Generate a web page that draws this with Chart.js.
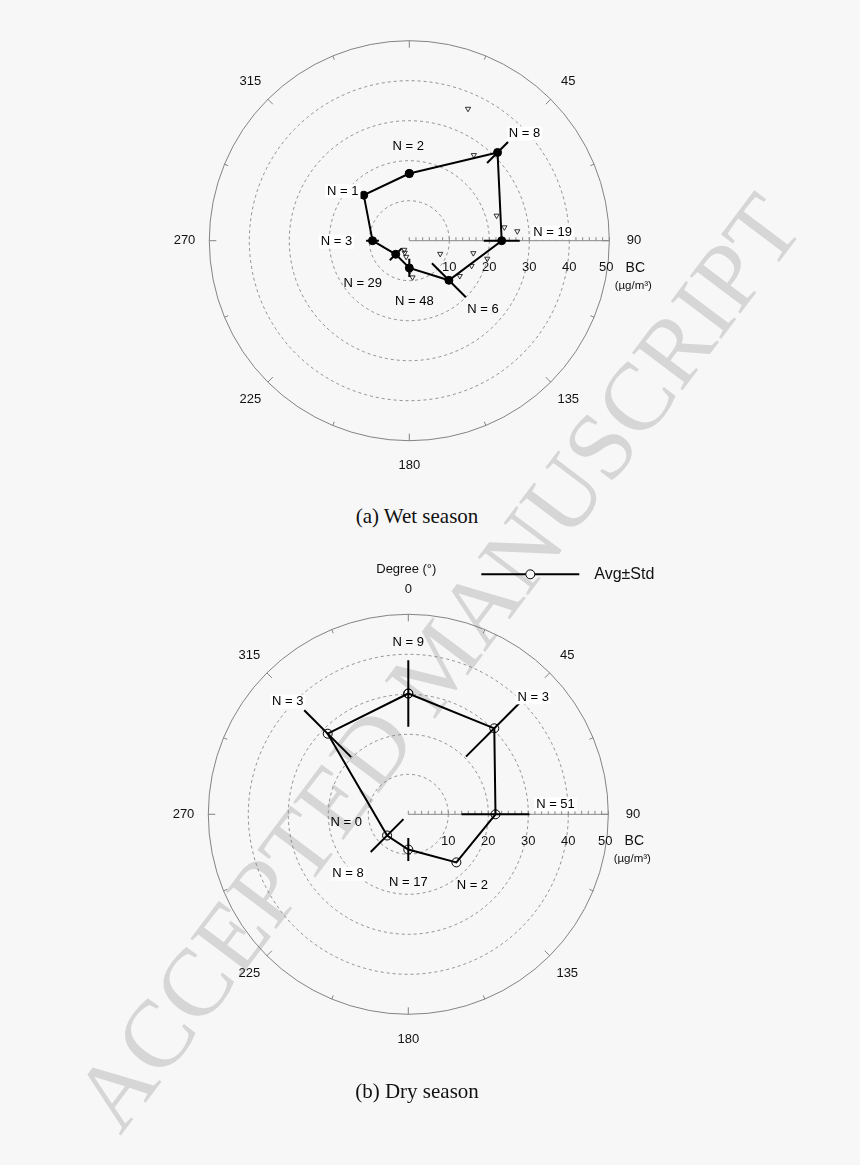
<!DOCTYPE html>
<html>
<head>
<meta charset="utf-8">
<script src="https://cdn.jsdelivr.net/npm/chart.js@4.4.1/dist/chart.umd.min.js"></script>
<style>
    html, body { margin: 0; padding: 0; background: #f7f7f7; }
    body { width: 860px; height: 1165px; position: relative; overflow: hidden; }
    .watermark {
        position: absolute; left: 437px; top: 662px;
        font-family: "Liberation Serif", serif; font-size: 96px; color: #d6d6d6;
        white-space: nowrap; transform: translate(-50%, -50%) rotate(-53deg);
    }
    canvas { position: absolute; left: 0; }
    .caption {
        position: absolute; left: -13px; width: 860px; text-align: center; line-height: 24px;
        font-family: "Liberation Serif", serif; font-size: 21px; color: #111;
    }
</style>
</head>
<body>
<div class="watermark">ACCEPTED MANUSCRIPT</div>
<canvas id="wetChart" width="860" height="500" style="top:0"></canvas>
<div class="caption" style="top:504px">(a) Wet season</div>
<canvas id="dryChart" width="860" height="560" style="top:540px"></canvas>
<div class="caption" style="top:1079px">(b) Dry season</div>

<script>
// --- DATA ---
const directions = [0, 45, 90, 135, 180, 225, 270, 315];
const angleLabels = ['0', '45', '90', '135', '180', '225', '270', '315'];
const bcTicks = [10, 20, 30, 40, 50];

// wet season: average BC, std and sample count per wind sector
const wetAvg = [16.8, 31.2, 23.1, 14.0, 6.8, 4.8, 9.2, 16.1];
const wetStd = [0, 3.7, 4.5, 6.0, 2.3, 2.1, 1.6, 0];
const wetN = [2, 8, 19, 6, 48, 29, 3, 1];
// wet season: single observations (triangles)
const wetObsDir = [24, 37, 74, 82, 85, 113, 101, 103, 112, 125, 175, 201, 191, 179, 209];
const wetObsBC = [36.1, 26.8, 22.7, 24.0, 27.1, 8.4, 16.3, 20.0, 16.8, 15.4, 9.2, 3.2, 4.1, 7.6, 2.6];

// dry season
const dryAvg = [30.2, 30.4, 21.8, 17.0, 8.8, 7.5, null, 28.5];
const dryStd = [8.3, 10.0, 8.5, 0, 2.9, 5.8, 0, 8.3];
const dryN = [9, 3, 51, 2, 17, 8, 0, 3];

// --- LAYOUT (pixel offsets of the N labels, not data) ---
const wetLabelOffset = [[-1, -27], [27, -19], [51, -8], [34, 29], [5, 34], [-33, 29], [-36, 1], [-21, -4]];
const wetLabelBox = [false, true, true, false, false, false, true, true];
const dryLabelOffset = [[0, -51], [39, -31], [60, -10], [16, 23], [0, 33], [-39, 38], [-62, 8], [-40, -32]];
const dryLabelBox = [false, true, true, false, false, true, false, true];

const FONT = '"Liberation Sans", Arial, sans-serif';

function toXY(dir, r) {
    const a = dir * Math.PI / 180;
    return { x: r * Math.sin(a), y: r * Math.cos(a) };
}

// --- PLUGIN: POLAR GRID ---
const polarGrid = {
    id: 'polarGrid',
    beforeDatasetsDraw(chart, args, opts) {
        const { ctx, scales: { x, y } } = chart;
        const cx = x.getPixelForValue(0), cy = y.getPixelForValue(0);
        const px = v => x.getPixelForValue(v) - cx;
        const rMax = bcTicks[bcTicks.length - 1];
        const R = px(rMax);
        ctx.save();

        // vòng tròn đứt nét
        ctx.strokeStyle = '#777';
        ctx.lineWidth = 0.8;
        ctx.setLineDash([3, 3]);
        bcTicks.slice(0, -1).forEach(v => {
            ctx.beginPath(); ctx.arc(cx, cy, px(v), 0, Math.PI * 2); ctx.stroke();
        });
        ctx.setLineDash([]);
        ctx.strokeStyle = '#666';
        ctx.beginPath(); ctx.arc(cx, cy, R, 0, Math.PI * 2); ctx.stroke();

        // tick trên vòng ngoài
        for (let k = 0; k < 16; k++) {
            const a = k * 22.5 * Math.PI / 180;
            const len = k % 2 === 0 ? 7 : 4;
            ctx.beginPath();
            ctx.moveTo(cx + R * Math.sin(a), cy - R * Math.cos(a));
            ctx.lineTo(cx + (R - len) * Math.sin(a), cy - (R - len) * Math.cos(a));
            ctx.stroke();
        }

        // trục BC
        ctx.strokeStyle = '#888';
        ctx.lineWidth = 1;
        ctx.beginPath(); ctx.moveTo(cx, cy); ctx.lineTo(cx + R, cy); ctx.stroke();
        for (let i = 0; i <= 30; i++) {
            const tx = cx + px(i * rMax / 30);
            ctx.beginPath(); ctx.moveTo(tx, cy); ctx.lineTo(tx, cy - 3.5); ctx.stroke();
        }

        ctx.fillStyle = '#111';
        ctx.font = '13px ' + FONT;
        ctx.textAlign = 'center';
        ctx.textBaseline = 'middle';
        bcTicks.forEach(v => ctx.fillText(String(v), cx + px(v) - (v === rMax ? 3 : 0), cy + 27));

        // nhãn góc
        const rl = px(56.2);
        directions.forEach((d, i) => {
            if (d === 0 && !opts.showZero) return;
            const a = d * Math.PI / 180;
            ctx.fillText(angleLabels[i], cx + rl * Math.sin(a), cy - rl * Math.cos(a));
        });

        ctx.font = '14px ' + FONT;
        ctx.fillText('BC', cx + 226, cy + 27);
        ctx.font = '11.5px ' + FONT;
        ctx.fillText('(\u00b5g/m\u00b3)', cx + 224, cy + 45);

        // legend
        if (opts.legend) {
            ctx.font = '13px ' + FONT;
            ctx.fillText('Degree (\u00b0)', cx - 2, cy - 245);
            ctx.strokeStyle = '#000';
            ctx.lineWidth = 2;
            ctx.beginPath(); ctx.moveTo(cx + 73, cy - 240); ctx.lineTo(cx + 171, cy - 240); ctx.stroke();
            ctx.lineWidth = 1;
            ctx.fillStyle = '#f7f7f7';
            ctx.beginPath(); ctx.arc(cx + 122, cy - 240, 4.5, 0, Math.PI * 2); ctx.fill(); ctx.stroke();
            ctx.fillStyle = '#111';
            ctx.font = '16px ' + FONT;
            ctx.textAlign = 'left';
            ctx.fillText('Avg\u00b1Std', cx + 186, cy - 240);
        }
        ctx.restore();
    },

    afterDatasetsDraw(chart, args, opts) {
        const { ctx, scales: { x, y } } = chart;
        const cx = x.getPixelForValue(0), cy = y.getPixelForValue(0);
        ctx.save();
        ctx.font = '13px ' + FONT;
        ctx.textAlign = 'center';
        ctx.textBaseline = 'middle';
        opts.counts.forEach((n, i) => {
            const v = opts.avg[i];
            let ax = cx, ay = cy;
            if (v != null) {
                const p = toXY(directions[i], v);
                ax = x.getPixelForValue(p.x); ay = y.getPixelForValue(p.y);
            }
            const tx = ax + opts.offset[i][0], ty = ay + opts.offset[i][1];
            const text = 'N = ' + n;
            if (opts.box[i]) {
                const w = ctx.measureText(text).width + 4;
                ctx.fillStyle = '#fff';
                ctx.fillRect(tx - w / 2, ty - 7, w, 14);
            }
            ctx.fillStyle = '#000';
            ctx.fillText(text, tx, ty);
        });
        ctx.restore();
    }
};

// --- DATASETS ---
function buildDatasets(avg, std, obsDir, obsBC, openMarker) {
    const sets = [];
    directions.forEach((d, i) => {
        if (avg[i] == null || !std[i]) return;
        sets.push({
            data: [toXY(d, avg[i] - std[i]), toXY(d, avg[i] + std[i])],
            showLine: true, borderColor: '#000', borderWidth: 2, pointRadius: 0
        });
    });
    const pts = [];
    directions.forEach((d, i) => { if (avg[i] != null) pts.push(toXY(d, avg[i])); });
    pts.push(pts[0]);
    sets.push({
        data: pts, showLine: true, borderColor: '#000', borderWidth: 2,
        pointRadius: openMarker ? 4.5 : 4,
        pointBorderWidth: 1,
        pointBorderColor: '#000',
        pointBackgroundColor: openMarker ? 'rgba(0,0,0,0)' : '#000'
    });
    if (obsDir) {
        sets.push({
            data: obsDir.map((d, i) => toXY(d, obsBC[i])),
            showLine: false, pointStyle: 'triangle', rotation: 180,
            pointRadius: 3, pointBorderWidth: 0.8, pointBorderColor: '#000',
            pointBackgroundColor: 'rgba(0,0,0,0)'
        });
    }
    return sets;
}

function makeChart(id, center, height, datasets, pluginOpts) {
    const [cx, cy] = center;
    return new Chart(document.getElementById(id), {
        type: 'scatter',
        data: { datasets },
        options: {
            responsive: false, animation: false, events: [],
            layout: { padding: { left: cx - 200, right: 860 - cx - 200, top: cy - 200, bottom: height - cy - 200 } },
            scales: {
                x: { type: 'linear', min: -50, max: 50, display: false },
                y: { type: 'linear', min: -50, max: 50, display: false }
            },
            plugins: { legend: { display: false }, tooltip: { enabled: false }, polarGrid: pluginOpts }
        },
        plugins: [polarGrid]
    });
}

// --- KHỞI CHẠY ---
makeChart('wetChart', [409.3, 240.7], 500,
    buildDatasets(wetAvg, wetStd, wetObsDir, wetObsBC, false),
    { showZero: false, legend: false, counts: wetN, avg: wetAvg, offset: wetLabelOffset, box: wetLabelBox });

makeChart('dryChart', [408.3, 274.3], 560,
    buildDatasets(dryAvg, dryStd, null, null, true),
    { showZero: true, legend: true, counts: dryN, avg: dryAvg, offset: dryLabelOffset, box: dryLabelBox });
</script>
</body>
</html>
